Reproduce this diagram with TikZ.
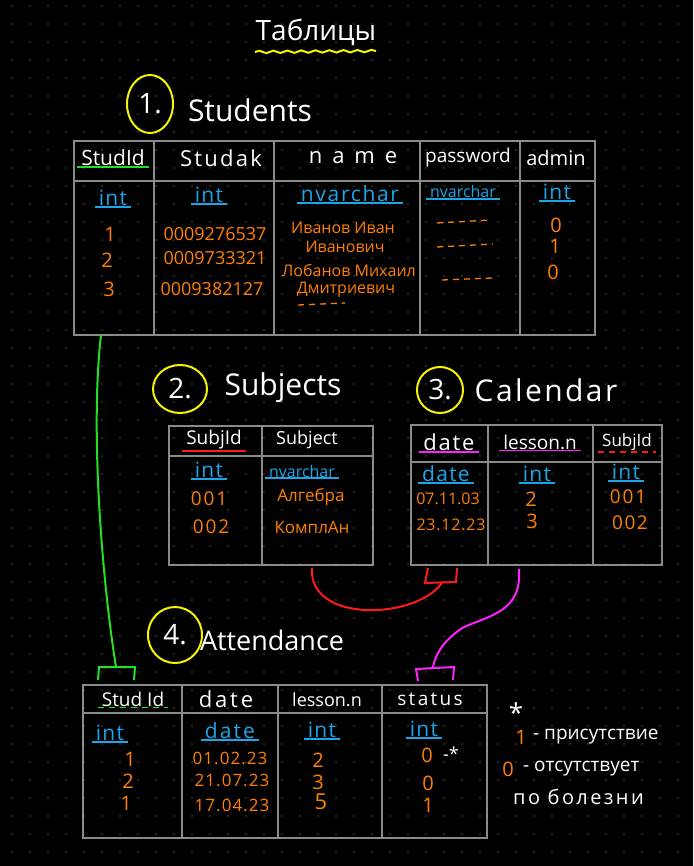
\documentclass[tikz,border=0pt]{standalone}
\usepackage{fontspec}
\setmainfont{Open Sans}
\usetikzlibrary{shapes.geometric,decorations.pathmorphing}

\definecolor{dotgray}{HTML}{4A4A4A}
\definecolor{tblgray}{HTML}{8A8A8A}
\definecolor{typblue}{HTML}{1AA6E8}
\definecolor{valorange}{HTML}{FF8000}
\definecolor{hlyellow}{HTML}{F5F500}
\definecolor{hlgreen}{HTML}{22E022}
\definecolor{hlred}{HTML}{FF1A1A}
\definecolor{hlmag}{HTML}{FF22FF}

\newcommand\fsz[1]{\fontsize{#1}{#1}\selectfont}
\newcommand\wide[1]{\addfontfeature{LetterSpace=#1}}

\tikzset{
  ul/.style={append after command={([xshift=-3pt]\tikzlastnode.south west) edge[draw=#1,line width=1.8pt] ([xshift=3pt]\tikzlastnode.south east)}},
  dul/.style={append after command={([xshift=-3pt]\tikzlastnode.south west) edge[draw=#1,line width=1.8pt,dash pattern=on 6pt off 5pt] ([xshift=3pt]\tikzlastnode.south east)}},
  hdr/.style={text=white,font=\fsz{21},inner sep=1pt},
  typ/.style={text=typblue,font=\fsz{21}\wide{6},inner sep=1pt,ul=typblue},
  val/.style={text=valorange,font=\fsz{17},inner sep=1pt},
  dig/.style={text=valorange,font=\fsz{20},inner sep=1pt},
  ttl/.style={text=white,font=\fsz{30},inner sep=1pt},
  numc/.style={draw=hlyellow,line width=2pt,ellipse,inner sep=0pt,text=white,font=\fsz{28}},
  tbl/.style={draw=tblgray,line width=2.5pt},
}

\begin{document}
\begin{tikzpicture}[x=1pt,y=-1pt]
  \useasboundingbox (0,0) rectangle (693,866);
  \fill[black] (0,0) rectangle (693,866);
  \foreach \x in {12,30,...,690}
    \foreach \y in {6,24,...,864}
      \fill[dotgray] (\x,\y) circle (0.9);

  % title
  \node[ttl,font=\fsz{28}] (title) at (316,32) {Таблицы};
  \coordinate (tl) at (255,52);
  \coordinate (tr) at (376,51);
  \draw[hlyellow,line width=2pt,decorate,decoration={snake,amplitude=1.2pt,segment length=14pt}] (tl) -- (tr);

  % 1. Students
  \node[numc,minimum width=46,minimum height=58] (n1) at (150,104) {1.};
  \node[ttl] (students) at (250,110) {Students};
  \draw[tbl] (74,141) rectangle (595,335);
  \draw[tbl] (74,181) -- (595,181);
  \foreach \x in {154,274,420,520}
    \draw[tbl] (\x,141) -- (\x,335);

  \node[hdr,ul=hlgreen] (s-id) at (113,158) {StudId};
  \node[hdr,font=\fsz{22}\wide{10}] (s-studak) at (221,158) {Studak};
  \node[hdr,font=\fsz{22}\wide{45}] (s-name) at (353,158) {name};
  \node[hdr,font=\fsz{19}] (s-pass) at (468,158) {password};
  \node[hdr,font=\fsz{20}] (s-admin) at (556,158) {admin};

  \node[typ] (s-t1) at (113,198) {int};
  \node[typ] (s-t2) at (209,195) {int};
  \node[typ,font=\fsz{21}\wide{8}] (s-t3) at (350,194) {nvarchar};
  \node[typ,font=\fsz{16}] (s-t4) at (463,192) {nvarchar};
  \node[typ] (s-t5) at (557,192) {int};

  \node[dig] (s-id1) at (110,234) {1};
  \node[dig] (s-id2) at (107,260) {2};
  \node[dig] (s-id3) at (109,289) {3};
  \node[val,font=\fsz{18}] (s-sd1) at (215,234) {0009276537};
  \node[val,font=\fsz{18}] (s-sd2) at (215,258) {0009733321};
  \node[val,font=\fsz{18}] (s-sd3) at (212,289) {0009382127};
  \node[val,font=\fsz{16}] (s-nm1) at (343,228) {Иванов Иван};
  \node[val,font=\fsz{16}] (s-nm2) at (345,247) {Иванович};
  \node[val,font=\fsz{16}] (s-nm3) at (349,270) {Лобанов Михаил};
  \node[val,font=\fsz{16}] (s-nm4) at (346,290) {Дмитриевич};
  \node[dig] (s-ad1) at (556,225) {0};
  \node[dig] (s-ad2) at (555,246) {1};
  \node[dig] (s-ad3) at (553,272) {0};
  \draw[valorange,line width=1.3pt,dash pattern=on 6pt off 5pt] (298,305) -- (345,303);
  \draw[valorange,line width=1.3pt,dash pattern=on 6pt off 5pt] (437,223) -- (490,220);
  \draw[valorange,line width=1.3pt,dash pattern=on 6pt off 5pt] (437,247) -- (493,244);
  \draw[valorange,line width=1.3pt,dash pattern=on 6pt off 5pt] (442,280) -- (492,278);

  % 2. Subjects
  \node[numc,minimum width=54,minimum height=48] (n2) at (180,389) {2.};
  \node[ttl] (subjects) at (283,388) {Subjects};
  \draw[tbl] (169,426) rectangle (373,565);
  \draw[tbl] (169,456) -- (373,456);
  \draw[tbl] (262,426) -- (262,565);

  \node[hdr,font=\fsz{19},ul=hlred] (b-id) at (214,440) {SubjId};
  \node[hdr,font=\fsz{18}] (b-subj) at (307,440) {Subject};
  \node[typ] (b-t1) at (209,470) {int};
  \node[typ,font=\fsz{16}] (b-t2) at (302,471) {nvarchar};
  \node[dig,font=\fsz{19}\wide{10}] (b-id1) at (209,499) {001};
  \node[dig,font=\fsz{19}\wide{10}] (b-id2) at (211,527) {002};
  \node[val] (b-sb1) at (311,497) {Алгебра};
  \node[val] (b-sb2) at (312,527) {КомплАн};

  % 3. Calendar
  \node[numc,minimum width=46,minimum height=46] (n3) at (440,390) {3.};
  \node[ttl,font=\fsz{30}\wide{8}] (calendar) at (546,390) {Calendar};
  \draw[tbl] (411,425) rectangle (662,565);
  \draw[tbl] (411,462) -- (662,462);
  \foreach \x in {488,593}
    \draw[tbl] (\x,425) -- (\x,565);

  \node[hdr,font=\fsz{22}\wide{8},ul=hlmag] (c-date) at (449,442) {date};
  \node[hdr,font=\fsz{19},ul=hlmag] (c-les) at (540,442) {lesson.n};
  \node[hdr,font=\fsz{17},dul=hlred] (c-id) at (627,442) {SubjId};
  \node[typ] (c-t1) at (446,474) {date};
  \node[typ] (c-t2) at (537,474) {int};
  \node[typ] (c-t3) at (626,472) {int};
  \node[val,font=\fsz{16}] (c-d1) at (448,499) {07.11.03};
  \node[val,font=\fsz{16}\wide{5}] (c-d2) at (451,525) {23.12.23};
  \node[dig] (c-l1) at (531,499) {2};
  \node[dig] (c-l2) at (532,521) {3};
  \node[dig,font=\fsz{19}\wide{10}] (c-s1) at (628,497) {001};
  \node[dig,font=\fsz{19}\wide{8}] (c-s2) at (630,523) {002};

  % 4. Attendance
  \node[numc,minimum width=54,minimum height=56] (n4) at (175,635) {4.};
  \node[ttl,font=\fsz{27}] (attendance) at (272,640) {Attendance};
  \draw[tbl] (83,685) rectangle (487,838);
  \draw[tbl] (83,713) -- (487,713);
  \foreach \x in {182,278,382}
    \draw[tbl] (\x,685) -- (\x,838);

  \node[hdr,font=\fsz{19},dul=hlgreen] (a-id) at (133,699) {Stud Id};
  \node[hdr,font=\fsz{22}\wide{13}] (a-date) at (226,699) {date};
  \node[hdr,font=\fsz{18}] (a-les) at (327,700) {lesson.n};
  \node[hdr,font=\fsz{19}\wide{12}] (a-st) at (430,699) {status};
  \node[typ] (a-t1) at (110,733) {int};
  \node[typ,font=\fsz{21}\wide{10}] (a-t2) at (230,731) {date};
  \node[typ] (a-t3) at (322,730) {int};
  \node[typ] (a-t4) at (424,729) {int};
  \node[dig] (a-id1) at (130,759) {1};
  \node[dig] (a-id2) at (128,781) {2};
  \node[dig] (a-id3) at (126,803) {1};
  \node[val,font=\fsz{17}\wide{6}] (a-d1) at (230,758) {01.02.23};
  \node[val,font=\fsz{17}\wide{6}] (a-d2) at (232,780) {21.07.23};
  \node[val,font=\fsz{17}\wide{6}] (a-d3) at (232,805) {17.04.23};
  \node[dig] (a-l1) at (318,760) {2};
  \node[dig] (a-l2) at (318,782) {3};
  \node[dig,font=\fsz{22}] (a-l3) at (321,802) {5};
  \node[dig] (a-s1) at (427,755) {0};
  \node[dig] (a-s2) at (428,783) {0};
  \node[dig] (a-s3) at (428,805) {1};
  \node[hdr,font=\fsz{18}] (a-mark) at (451,754) {-*};

  % legend
  \node[hdr,font=\fsz{26}] (lg-star) at (516,713) {*};
  \node[dig] (lg-one) at (521,737) {1};
  \node[hdr,font=\fsz{19},anchor=west] (lg-pres) at (532,737) {- присутствие};
  \node[dig] (lg-zero) at (508,769) {0};
  \node[hdr,font=\fsz{19},anchor=west] (lg-abs) at (522,769) {- отсутствует};
  \node[hdr,font=\fsz{20}\wide{12},anchor=west] (lg-ill) at (512,797) {по болезни};

  % links
  \coordinate (g1) at (101,335);
  \coordinate (g2) at (116,667);
  \draw[hlgreen,line width=2pt] (g1) .. controls (90,430) and (102,580) .. (g2);
  \draw[hlgreen,line width=2pt] (98,680) -- (99,667) -- (135,667) -- (134,680);

  \coordinate (r1) at (312,568);
  \coordinate (r2) at (442,583);
  \draw[hlred,line width=2pt] (r1) .. controls (308,623) and (415,620) .. (r2);
  \draw[hlred,line width=2pt] (428,568) -- (425,583) -- (456,582) -- (457,568);

  \coordinate (m1) at (519,569);
  \coordinate (m2) at (433,667);
  \draw[hlmag,line width=2pt] (m1) .. controls (522,612) and (490,615) .. (462,628)
    .. controls (445,640) and (436,652) .. (m2);
  \draw[hlmag,line width=2pt] (418,681) -- (416,669) -- (454,667) -- (453,680);
\end{tikzpicture}
\end{document}
